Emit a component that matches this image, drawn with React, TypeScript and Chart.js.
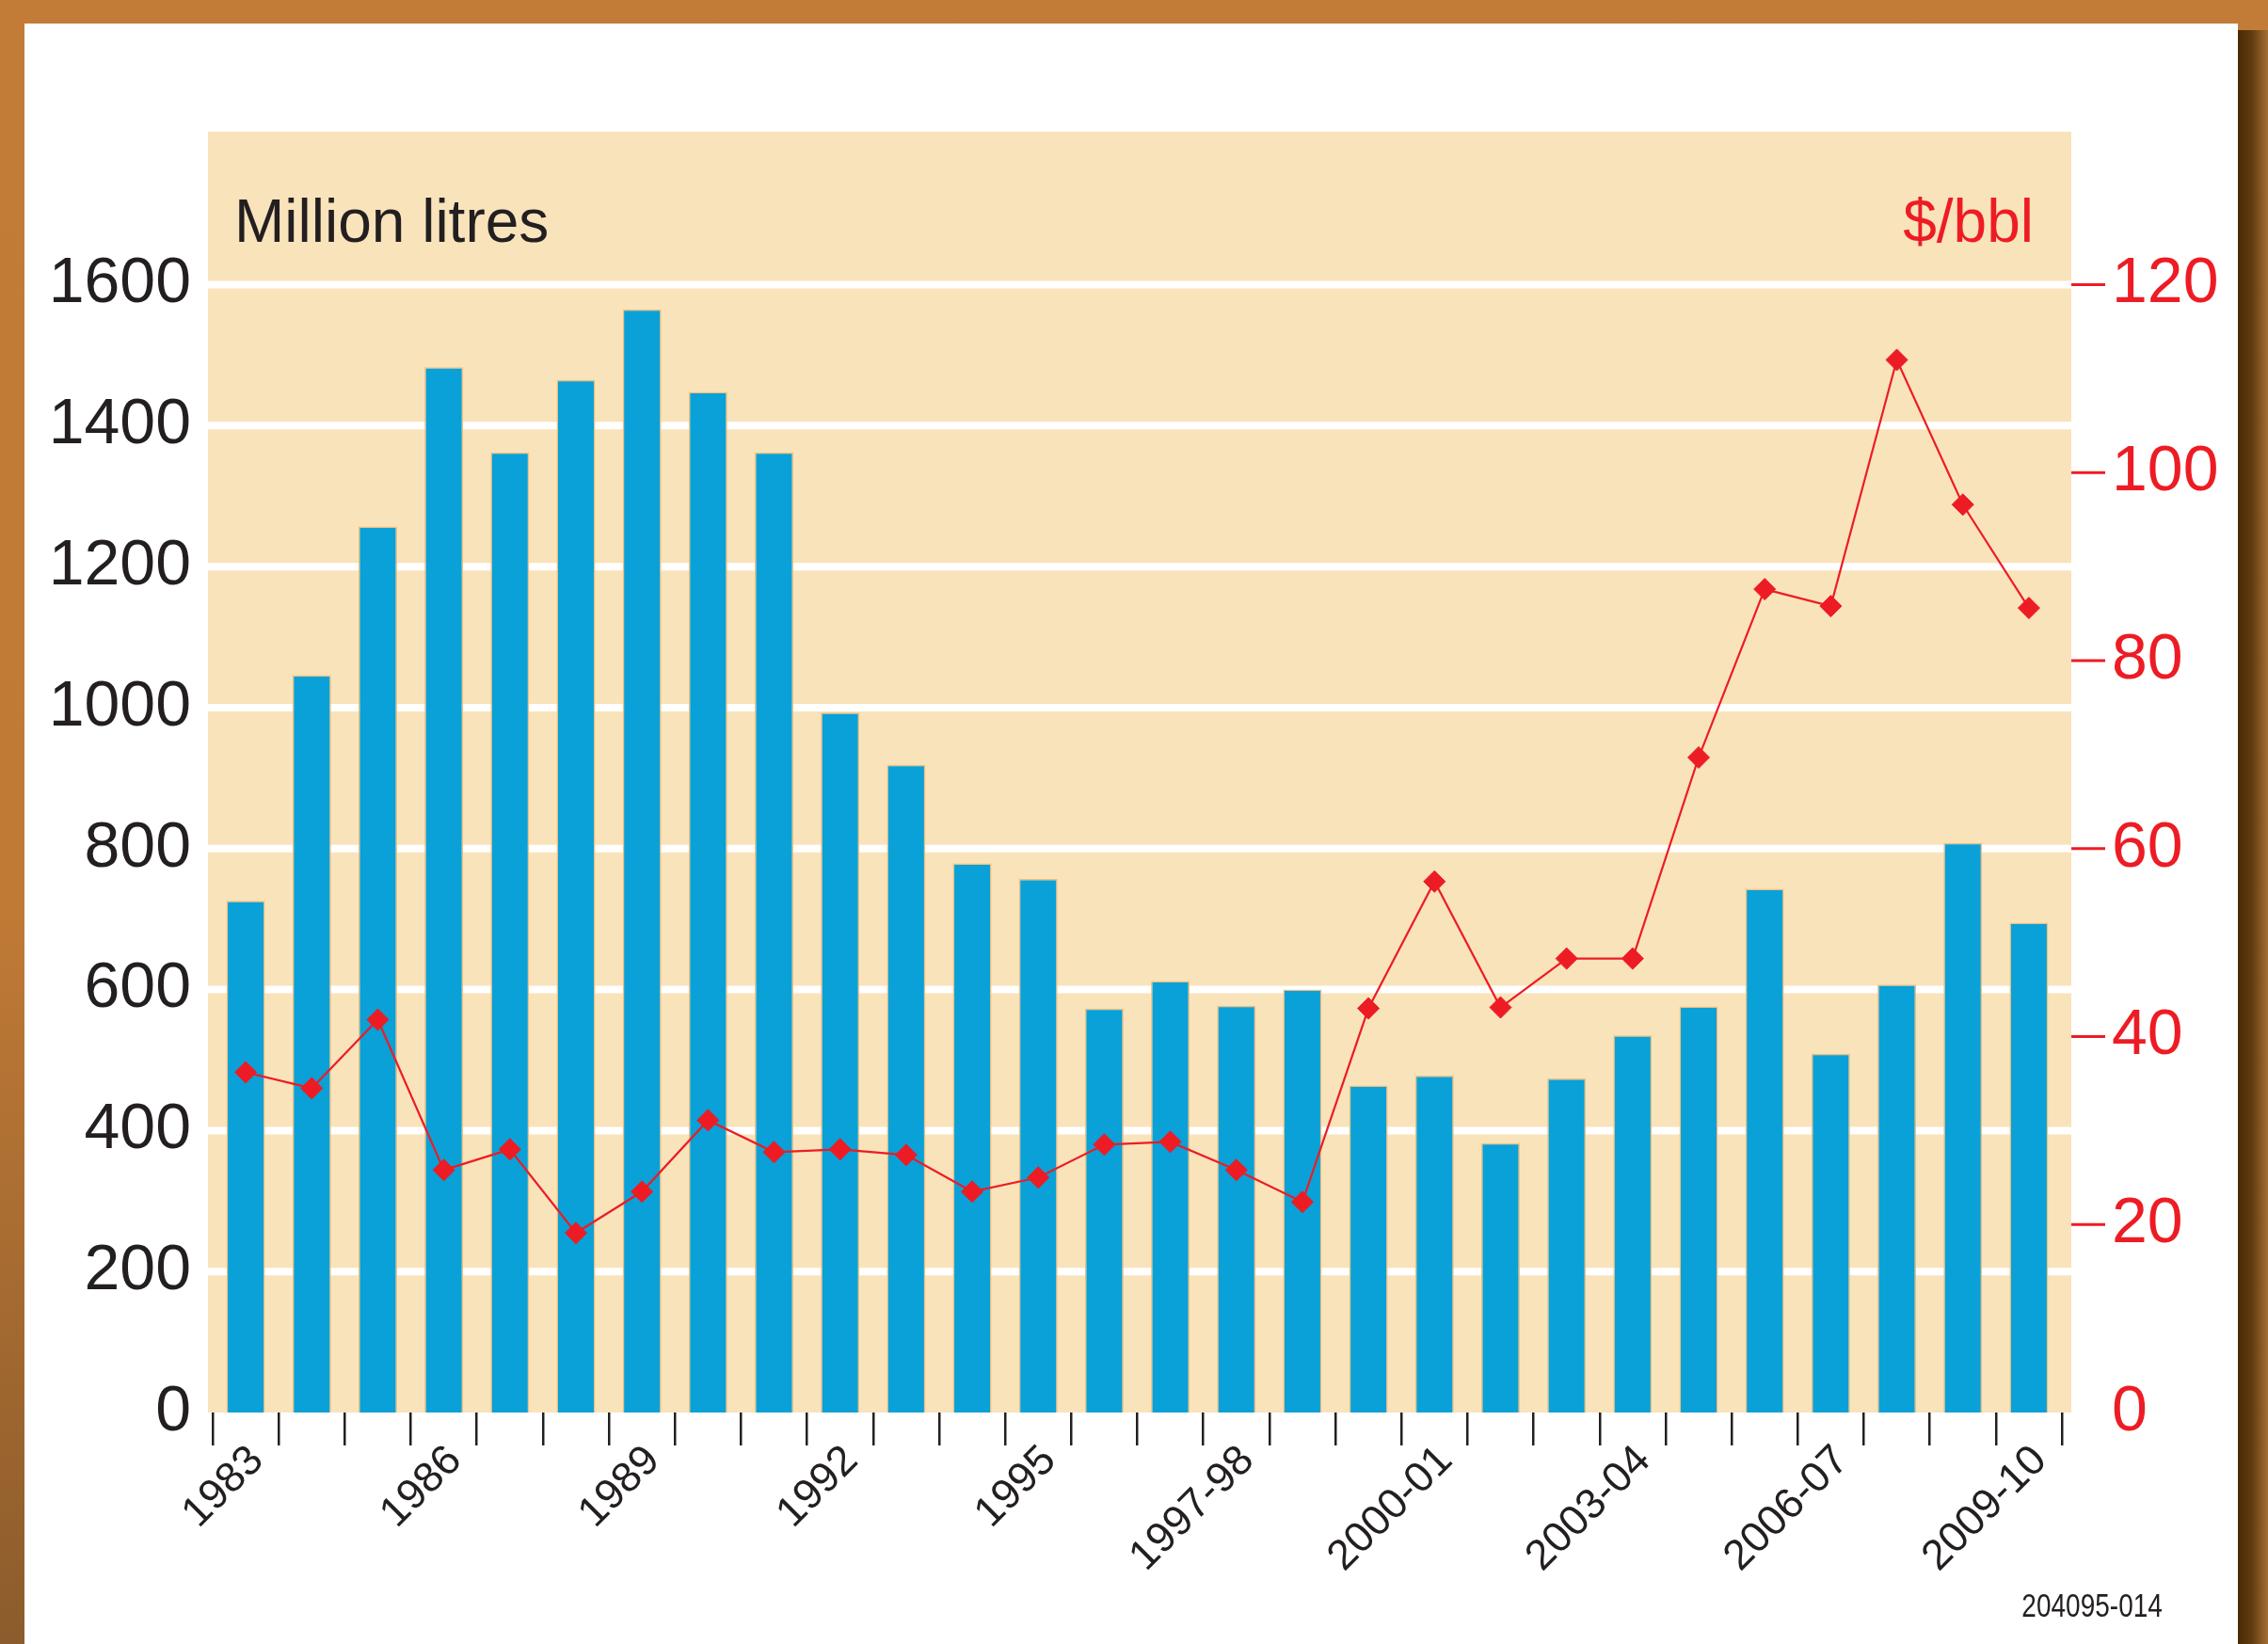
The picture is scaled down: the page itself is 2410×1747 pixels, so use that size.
import React, { useEffect, useRef } from 'react';
import { Chart, registerables } from 'chart.js';

Chart.register(...registerables);

// ---------- data ----------
const categories = [
  '1983', '1984', '1985', '1986', '1987', '1988', '1989', '1990', '1991', '1992',
  '1993', '1994', '1995', '1996', '1996-97', '1997-98', '1998-99', '1999-2000',
  '2000-01', '2001-02', '2002-03', '2003-04', '2004-05', '2005-06', '2006-07',
  '2007-08', '2008-09', '2009-10',
];

const shownLabels = ['1983', '1986', '1989', '1992', '1995', '1997-98', '2000-01', '2003-04', '2006-07', '2009-10'];

// Million litres (bars, left axis)
const volumes = [
  726, 1046, 1257, 1483, 1362, 1465, 1565, 1448, 1362, 993,
  919, 779, 757, 573, 612, 577, 600, 464, 478, 382,
  474, 535, 576, 743, 509, 607, 808, 695,
];

// $/bbl (line, right axis)
const oilPrice = [
  36.2, 34.5, 41.8, 25.8, 28.0, 19.1, 23.5, 31.1, 27.7, 28.0,
  27.4, 23.5, 25.0, 28.5, 28.8, 25.8, 22.4, 43.0, 56.5, 43.1,
  48.3, 48.3, 69.7, 87.6, 85.8, 112.0, 96.6, 85.6,
];

const leftTicks = [0, 200, 400, 600, 800, 1000, 1200, 1400, 1600];
const rightTicks = [0, 20, 40, 60, 80, 100, 120];
const leftMax = 1817;
const rightMax = (leftMax * 120) / 1600;

// ---------- style ----------
const FONT = '"Liberation Sans", Arial, Helvetica, sans-serif';
const DARK = '#231f20';
const RED = '#ed1c24';
const BLUE = '#09a1d7';
const TAN = '#f9e3bb';

const bgPlugin = {
  id: 'tanBackground',
  beforeDraw(chart: any) {
    const { ctx, chartArea, scales } = chart;
    const left = chartArea.left - 5;
    const right = chartArea.right + 10;
    ctx.save();
    ctx.fillStyle = TAN;
    ctx.fillRect(left, chartArea.top, right - left, chartArea.bottom - chartArea.top);

    ctx.strokeStyle = '#ffffff';
    ctx.lineWidth = 8;
    leftTicks.forEach((v) => {
      if (v === 0) return;
      const y = scales.y.getPixelForValue(v);
      ctx.beginPath();
      ctx.moveTo(left, y);
      ctx.lineTo(right, y);
      ctx.stroke();
    });

    ctx.strokeStyle = RED;
    ctx.lineWidth = 3;
    rightTicks.forEach((v) => {
      if (v === 0) return;
      const y = scales.y1.getPixelForValue(v);
      ctx.beginPath();
      ctx.moveTo(right, y);
      ctx.lineTo(right + 36, y);
      ctx.stroke();
    });

    ctx.font = `64px ${FONT}`;
    ctx.textBaseline = 'alphabetic';
    ctx.fillStyle = DARK;
    ctx.textAlign = 'left';
    ctx.fillText('Million litres', left + 28, chartArea.top + 117);
    ctx.fillStyle = RED;
    ctx.textAlign = 'right';
    ctx.fillText('$/bbl', right - 40, chartArea.top + 117);
    ctx.restore();
  },
};

export default function App() {
  const canvasRef = useRef<HTMLCanvasElement | null>(null);

  useEffect(() => {
    const canvas = canvasRef.current;
    if (!canvas) return;
    const chart = new Chart(canvas, {
      type: 'bar',
      data: {
        labels: categories,
        datasets: [
          {
            type: 'line',
            label: '$/bbl',
            data: oilPrice,
            yAxisID: 'y1',
            borderColor: RED,
            borderWidth: 2.2,
            pointStyle: 'rectRot',
            pointRadius: 11.5,
            pointBackgroundColor: RED,
            pointBorderColor: RED,
            pointBorderWidth: 1,
            tension: 0,
            order: 0,
          } as any,
          {
            type: 'bar',
            label: 'Million litres',
            data: volumes,
            yAxisID: 'y',
            backgroundColor: BLUE,
            borderColor: '#efbf80',
            borderWidth: 1.5,
            barPercentage: 0.584,
            categoryPercentage: 1,
            order: 1,
          } as any,
        ],
      },
      options: {
        responsive: false,
        animation: false,
        devicePixelRatio: 1,
        layout: { padding: { top: 140, left: 0, right: 0, bottom: 0 } },
        plugins: { legend: { display: false }, tooltip: { enabled: false }, title: { display: false } },
        scales: {
          x: {
            offset: true,
            grid: {
              display: true,
              offset: true,
              drawOnChartArea: false,
              drawTicks: true,
              tickLength: 35,
              color: DARK,
              lineWidth: 2.5,
            },
            border: { display: false },
            ticks: {
              autoSkip: false,
              minRotation: 45,
              maxRotation: 45,
              labelOffset: 12,
              padding: -10,
              color: DARK,
              font: { family: FONT, size: 45 },
              callback: (_v: any, index: number) => {
                const l = categories[index];
                return shownLabels.includes(l) ? l : '';
              },
            },
            afterFit: (s: any) => {
              s.height = 246;
            },
          },
          y: {
            position: 'left',
            min: 0,
            max: leftMax,
            grid: { display: false, drawTicks: false },
            border: { display: false },
            afterBuildTicks: (s: any) => {
              s.ticks = leftTicks.map((v) => ({ value: v }));
            },
            ticks: {
              padding: 23,
              color: DARK,
              font: { family: FONT, size: 68 },
              callback: (v: any) => String(v),
            },
            afterFit: (s: any) => {
              s.width = 226;
            },
          },
          y1: {
            position: 'right',
            min: 0,
            max: rightMax,
            grid: { display: false, drawTicks: false },
            border: { display: false },
            afterBuildTicks: (s: any) => {
              s.ticks = rightTicks.map((v) => ({ value: v }));
            },
            ticks: {
              padding: 53,
              color: RED,
              font: { family: FONT, size: 68 },
              callback: (v: any) => String(v),
            },
            afterFit: (s: any) => {
              s.width = 219;
            },
          },
        },
      } as any,
      plugins: [bgPlugin],
    });
    return () => chart.destroy();
  }, []);

  return (
    <div
      style={{
        position: 'fixed',
        left: 0,
        top: 0,
        width: 2410,
        height: 1747,
        overflow: 'hidden',
        background: 'linear-gradient(to bottom, #c37c37 0%, #c07a36 55%, #8c5c2c 100%)',
      }}
    >
      <div style={{ position: 'absolute', left: 26, top: 25, width: 2352, height: 1722, background: '#ffffff' }} />
      <div
        style={{
          position: 'absolute',
          left: 2378,
          top: 32,
          width: 32,
          height: 1715,
          background: 'linear-gradient(to right, #4a2a05 0%, #5e3b0f 45%, #a56d30 100%)',
        }}
      />
      <canvas
        ref={canvasRef}
        width={2410}
        height={1747}
        style={{ position: 'absolute', left: 0, top: 0, width: 2410, height: 1747 }}
      />
      <div
        style={{
          position: 'absolute',
          right: 2410 - 2298,
          top: 1688,
          fontFamily: FONT,
          fontSize: 35,
          lineHeight: '35px',
          color: DARK,
          transform: 'scaleX(0.8)',
          transformOrigin: 'right center',
          whiteSpace: 'nowrap',
        }}
      >
        204095-014
      </div>
    </div>
  );
}
